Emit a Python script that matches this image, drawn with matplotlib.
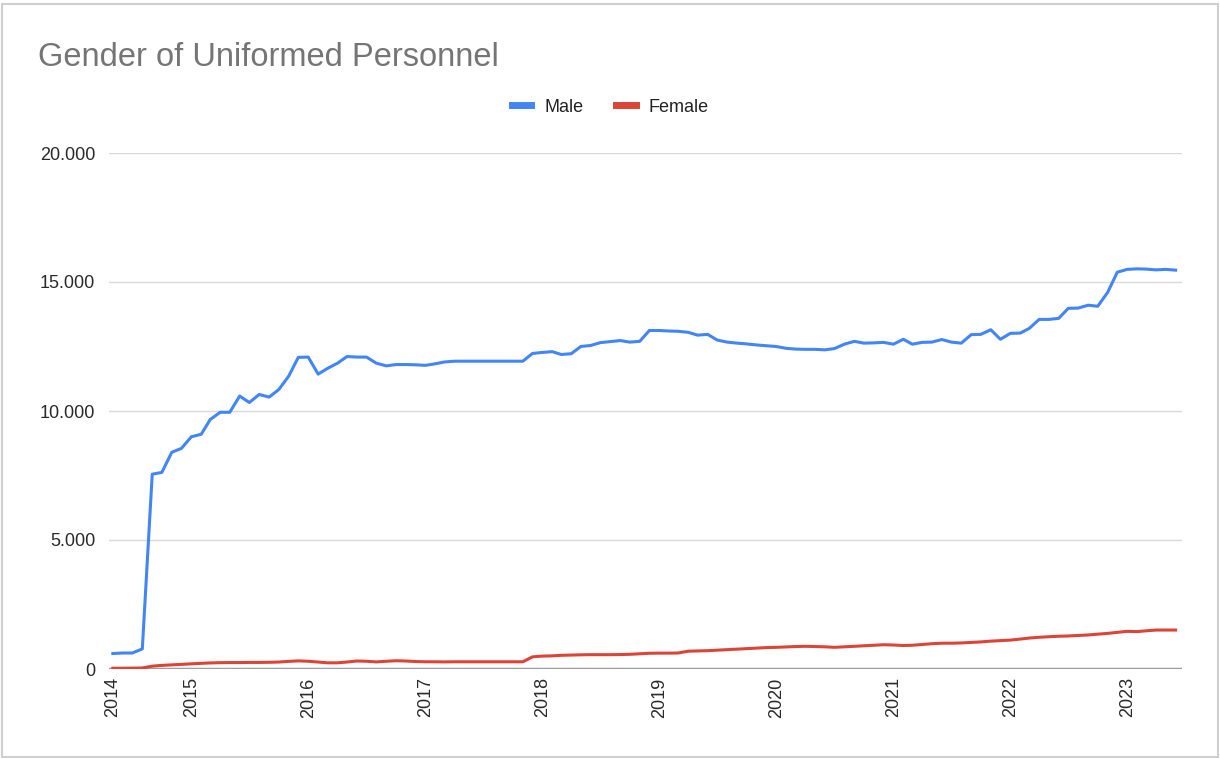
import pandas as pd
import matplotlib.pyplot as plt
import matplotlib.dates as mdates
from matplotlib.ticker import FuncFormatter
from matplotlib.patches import Rectangle

# monthly counts, May 2014 - June 2023
start_month = '2014-05-01'
male = [600, 620, 620, 780, 7550, 7620, 8400, 8550, 9000, 9100,
        9670, 9950, 9950, 10580, 10330, 10640, 10540, 10830, 11350, 12080,
        12090, 11430, 11650, 11850, 12110, 12090, 12090, 11850, 11750, 11800,
        11800, 11790, 11770, 11830, 11900, 11930, 11930, 11930, 11930, 11930,
        11930, 11930, 11930, 12230, 12270, 12300, 12190, 12220, 12500, 12540,
        12650, 12690, 12730, 12670, 12700, 13120, 13120, 13100, 13090, 13050,
        12940, 12970, 12750, 12670, 12630, 12600, 12560, 12530, 12500, 12430,
        12400, 12390, 12390, 12370, 12420, 12590, 12700, 12630, 12640, 12660,
        12590, 12780, 12590, 12660, 12670, 12770, 12670, 12630, 12960, 12970,
        13150, 12780, 13010, 13020, 13200, 13550, 13550, 13590, 13980, 13990,
        14100, 14060, 14600, 15380, 15490, 15510, 15500, 15470, 15490, 15460]
female = [30, 30, 35, 40, 110, 140, 160, 180, 200, 220,
          235, 245, 250, 250, 255, 255, 260, 270, 295, 315,
          300, 270, 240, 240, 270, 310, 300, 275, 300, 320,
          310, 290, 280, 280, 275, 280, 280, 280, 280, 280,
          280, 280, 280, 470, 500, 510, 530, 540, 550, 555,
          555, 555, 560, 570, 590, 610, 615, 615, 620, 690,
          700, 710, 730, 750, 770, 790, 810, 830, 840, 855,
          870, 880, 870, 860, 840, 860, 880, 900, 920, 940,
          930, 910, 920, 950, 980, 1000, 1000, 1010, 1030, 1050,
          1080, 1100, 1120, 1160, 1200, 1230, 1250, 1270, 1280, 1300,
          1320, 1350, 1380, 1420, 1460, 1450, 1480, 1510, 1510, 1510]
year_labels = ['2014', '2015', '2016', '2017', '2018', '2019', '2020', '2021', '2022', '2023']
y_ticks = [0, 5000, 10000, 15000, 20000]

dates = pd.date_range(start_month, periods=len(male), freq='MS')

plt.rcParams['font.family'] = ['Liberation Sans', 'DejaVu Sans']

fig = plt.figure(figsize=(12.2, 7.59), dpi=100)
ax = fig.add_axes([109 / 1220, 1 - 669 / 759, (1182 - 109) / 1220, (669 - 153) / 759])

ax.plot(dates, male, color='#4285F4', lw=2.2, label='Male', solid_joinstyle='round')
ax.plot(dates, female, color='#DB4437', lw=2.2, label='Female', solid_joinstyle='round')

ax.set_ylim(0, 20000)
ax.set_xlim(pd.Timestamp('2014-04-19'), pd.Timestamp('2023-06-21'))
ax.set_yticks(y_ticks)
ax.yaxis.set_major_formatter(FuncFormatter(lambda v, p: f'{int(v):,}'.replace(',', '.')))

xt = [dates[0]] + [pd.Timestamp(f'{y}-01-01') for y in year_labels[1:]]
ax.set_xticks(mdates.date2num(xt))
ax.set_xticklabels(year_labels, rotation=90, va='top')

ax.grid(axis='y', color='#d9d9d9', lw=1.0)
ax.set_axisbelow(True)
for s in ax.spines.values():
    s.set_visible(False)
ax.axhline(0, color='#9e9e9e', lw=2.5, zorder=1)
ax.tick_params(axis='both', length=0, labelsize=13, labelcolor='#2a2a2a')
ax.tick_params(axis='y', pad=10)
ax.tick_params(axis='x', pad=6)

fig.text(38 / 1220, 1 - 58 / 759, 'Gender of Uniformed Personnel', fontsize=23.5,
         color='#757575', va='center', ha='left')

leg = fig.legend(loc='center', bbox_to_anchor=(610 / 1220, 1 - 107 / 759), ncol=2,
                 frameon=False, fontsize=13, handlelength=1.1, handletextpad=0.7,
                 columnspacing=1.8)
for h in leg.get_lines():
    h.set_linewidth(5)
for t in leg.get_texts():
    t.set_color('#222222')

# screenshot frame
fig.patches.append(Rectangle((0.002, 0.003), 0.996, 0.992, transform=fig.transFigure,
                             fill=False, edgecolor='#cfcfcf', lw=1.5))

fig.savefig('out.png', dpi=100)
